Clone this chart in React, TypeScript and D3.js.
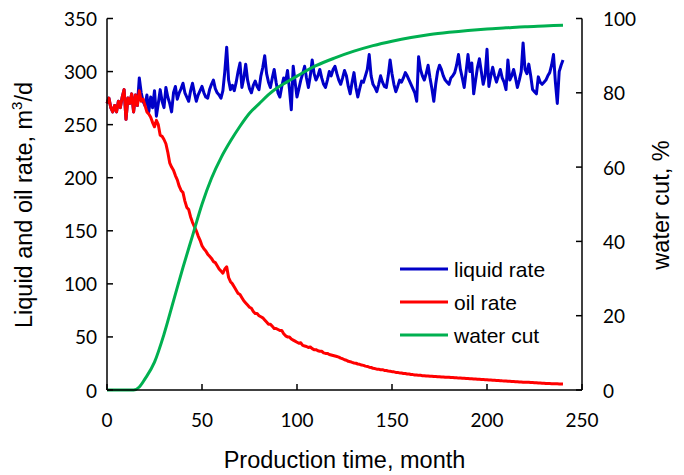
import React from "react";
import * as d3 from "d3";

const liquidRate: number[] = [
  270,275,266,262,268,262,272,266,276,283,
  255,275,270,279,262,278,268,294,280,272,
  268,278,262,276,266,282,258,270,283,272,
  266,285,276,270,262,280,286,274,280,284,
  289,280,276,272,282,289,280,272,278,282,
  286,280,276,275,283,288,292,284,280,278,
  275,282,300,323,292,283,287,282,290,300,
  308,285,294,307,292,284,280,287,291,286,
  283,296,304,315,298,290,285,294,302,290,
  280,276,286,294,290,301,284,264,305,290,
  276,284,292,298,305,294,285,296,311,298,
  292,296,302,294,288,285,292,300,296,302,
  305,298,292,288,294,301,296,286,279,290,
  299,285,276,284,291,290,296,302,316,296,
  288,285,281,288,296,290,286,285,296,311,
  298,288,281,286,292,290,294,299,296,292,
  288,284,280,272,314,302,296,292,298,306,
  294,284,272,288,300,306,302,296,292,290,
  288,294,296,299,306,316,302,294,285,300,
  316,300,308,279,292,304,312,300,288,296,
  321,286,296,304,296,290,296,302,294,290,
  283,311,292,296,302,294,285,292,300,327,
  302,298,307,296,283,281,279,295,290,288,
  290,292,296,299,306,316,290,270,300,306,
  311,
];

const oilRate: number[] = [
  270,275,266,262,268,262,272,266,276,283,
  255,275,270,279,262,278,268,282,272,274,
  268,262,260,257,252,248,254,250,240,239,
  236,232,224,214,210,207,202,198,192,188,
  186,178,172,170,163,158,154,150,145,141,
  136,133,131,128,126,124,121,120,117,114,
  112,110,114,116,106,102,100,97,94,91,
  90,87,84,82,80,78,77,74,72,72,
  70,69,68,66,64,62,62,60,58,58,
  57,56,56,53,51,50,50,48,47,46,
  45,44,44.5,42,41.5,41,40,40.5,39,38,
  38,37,36.5,36.5,35,34.5,34.5,33.5,33,32.5,
  32,31.5,31,30,29.5,28.5,28,27,26.7,26,
  25.5,25.2,24.5,24.2,23.5,23.2,22.5,22.2,21.5,21.2,
  20.5,20.2,19.6,19.6,19,19.1,18.4,18.3,17.9,17.7,
  17.3,17.1,16.6,16.5,16.1,16,15.5,15.5,15.1,15,
  14.6,14.5,14.1,14.2,13.8,13.8,13.5,13.5,13.2,13.2,
  13,13,12.7,12.7,12.4,12.5,12.2,12.3,12,12.1,
  12,11.8,11.8,11.5,11.5,11.2,11.2,11,11,10.8,
  10.8,10.6,10.6,10.4,10.4,10.2,10.2,10,10,9.7,
  9.7,9.5,9.4,9.2,9.1,8.9,8.9,8.7,8.6,8.4,
  8.4,8.2,8.2,8,8,7.8,7.8,7.6,7.6,7.4,
  7.4,7.2,7.2,7,7,6.8,6.8,6.6,6.6,6.4,
  6.4,6.2,6.2,6.1,6,5.9,5.9,5.8,5.7,5.7,
  5.6,
];

const waterCutMonths: number[] = [0,5,10,14,17,20,25,30,35,40,45,50,55,60,65,70,75,80,85,90,95,100,110,120,130,140,150,160,170,180,190,200,210,220,230,240];
const waterCut: number[] = [0,0,0,0,0.8,3,7.5,15,24,33,41.5,50,57,62.5,67,71,74.5,77,79.5,81.5,83,84.5,87.3,89.4,91.2,92.7,93.9,94.9,95.7,96.3,96.8,97.2,97.5,97.8,98,98.2];

const xTicks: number[] = [0, 50, 100, 150, 200, 250];
const leftTicks: number[] = [0, 50, 100, 150, 200, 250, 300, 350];
const rightTicks: number[] = [0, 20, 40, 60, 80, 100];

const legendItems = [
  { label: "liquid rate", color: "#0000C8" },
  { label: "oil rate", color: "#FF0000" },
  { label: "water cut", color: "#00B050" },
];

export default function App() {
  const W = 684, H = 475;
  const left = 107, right = 582, top = 18.5, bottom = 390;
  const x = d3.scaleLinear().domain([0, 250]).range([left, right]);
  const yL = d3.scaleLinear().domain([0, 350]).range([bottom, top]);
  const yR = d3.scaleLinear().domain([0, 100]).range([bottom, top]);

  const lineL = d3.line<number>().x((_, i) => x(i)).y((d) => yL(d));
  const lineW = d3
    .line<[number, number]>()
    .x((d) => x(d[0]))
    .y((d) => yR(d[1]))
    .curve(d3.curveMonotoneX);
  const wcPts: [number, number][] = waterCutMonths.map((m, i) => [m, waterCut[i]]);

  const tickFont = "Lato, 'Open Sans', sans-serif";
  const titleFont = "'Liberation Sans', Arial, sans-serif";
  const tl = 6;

  return (
    <svg width={W} height={H} style={{ position: "absolute", left: 0, top: 0, background: "#fff" }}>
      <rect width={W} height={H} fill="#fff" />
      {/* data */}
      <path d={lineL(liquidRate) || ""} fill="none" stroke="#0000C8" strokeWidth={3} strokeLinejoin="round" />
      <path d={lineL(oilRate) || ""} fill="none" stroke="#FF0000" strokeWidth={3} strokeLinejoin="round" />
      <path d={lineW(wcPts) || ""} fill="none" stroke="#00B050" strokeWidth={3} strokeLinejoin="round" />

      {/* axes */}
      <g stroke="#000" strokeWidth={1.5} fill="none">
        <line x1={left} y1={top} x2={left} y2={bottom} />
        <line x1={right} y1={top} x2={right} y2={bottom} />
        <line x1={left} y1={bottom} x2={right} y2={bottom} />
        {leftTicks.map((t) => (
          <line key={"l" + t} x1={left} x2={left + tl} y1={yL(t)} y2={yL(t)} />
        ))}
        {rightTicks.map((t) => (
          <line key={"r" + t} x1={right - tl} x2={right} y1={yR(t)} y2={yR(t)} />
        ))}
        {xTicks.map((t) => (
          <line key={"x" + t} x1={x(t)} x2={x(t)} y1={bottom} y2={bottom - tl} />
        ))}
      </g>
      <g fontFamily={tickFont} fontSize={19} fill="#000">
        {leftTicks.map((t) => (
          <text key={"lt" + t} x={left - 10} y={yL(t)} textAnchor="end" dominantBaseline="central">{t}</text>
        ))}
        {rightTicks.map((t) => (
          <text key={"rt" + t} x={right + 21} y={yR(t)} textAnchor="start" dominantBaseline="central">{t}</text>
        ))}
        {xTicks.map((t) => (
          <text key={"xt" + t} x={x(t)} y={419} textAnchor="middle" dominantBaseline="central">{t}</text>
        ))}
      </g>
      <g fontFamily={titleFont} fontSize={23.5} fill="#000">
        <text x={(left + right) / 2} y={460} textAnchor="middle" dominantBaseline="central">Production time, month</text>
        <text transform={`translate(24, 205) rotate(-90)`} textAnchor="middle" dominantBaseline="central">
          Liquid and oil rate, m<tspan dy={-8} fontSize={15}>3</tspan><tspan dy={8}>/d</tspan>
        </text>
        <text transform={`translate(661, 205) rotate(-90)`} textAnchor="middle" dominantBaseline="central">water cut, %</text>
      </g>
      {/* legend */}
      <g fontFamily={titleFont} fontSize={21} fill="#000">
        {legendItems.map((it, i) => (
          <g key={it.label}>
            <line x1={400} x2={448} y1={269 + i * 33} y2={269 + i * 33} stroke={it.color} strokeWidth={3} />
            <text x={454} y={269 + i * 33} dominantBaseline="central">{it.label}</text>
          </g>
        ))}
      </g>
    </svg>
  );
}
